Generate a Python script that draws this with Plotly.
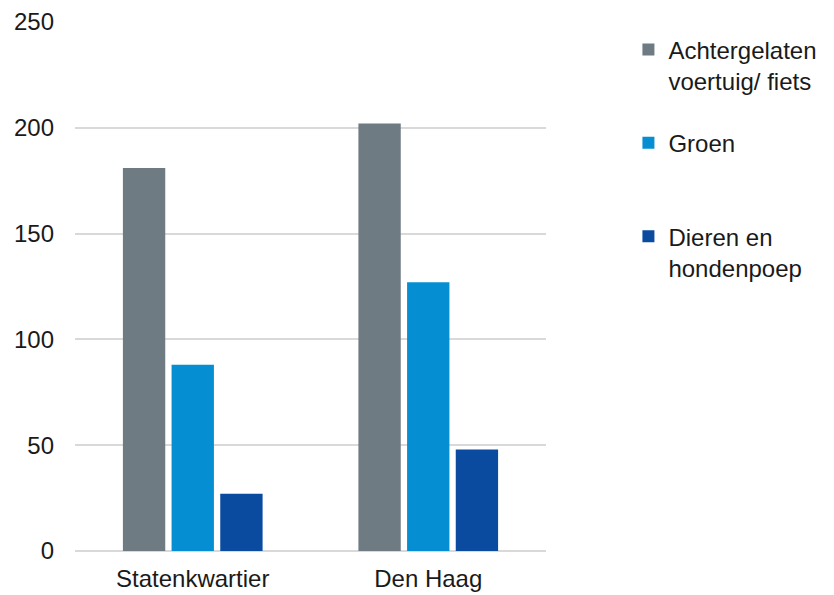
import plotly.graph_objects as go

categories = ["Statenkwartier", "Den Haag"]
series_names = ["Achtergelaten<br>voertuig/ fiets", "Groen<br>&nbsp;", "Dieren en<br>hondenpoep"]
achtergelaten = [181, 202]
groen = [88, 127]
dieren = [27, 48]
colors = ["#6f7b83", "#058fd2", "#0a4ba0"]
y_ticks = [0, 50, 100, 150, 200, 250]

fig = go.Figure()
for i, (name, vals) in enumerate(zip(series_names, [achtergelaten, groen, dieren])):
    fig.add_trace(go.Bar(x=categories, y=vals, name=name, marker_color=colors[i],
                         marker_line_width=0, legendgroup=str(i)))

# page body has an 8px margin, so the figure is shifted up/left to compensate
fig.update_layout(
    width=834, height=595,
    margin=dict(l=67, r=296, t=14, b=52, autoexpand=False),
    paper_bgcolor="white", plot_bgcolor="white",
    font=dict(family="Liberation Sans, Arial, sans-serif", size=24, color="#1a1a1a"),
    barmode="group", bargap=0.38, bargroupgap=0.13,
    legend=dict(x=1.175, y=0.99, xanchor="left", yanchor="top", valign="top",
                tracegroupgap=28, traceorder="grouped",
                font=dict(size=24), itemwidth=30),
    xaxis=dict(showline=False, ticks="", ticklabelstandoff=11, automargin=False),
    yaxis=dict(range=[0, 250], tickvals=y_ticks, showgrid=True, gridcolor="#d9d9d9",
               gridwidth=1.5, zeroline=True, zerolinecolor="#d9d9d9", zerolinewidth=1.5,
               ticks="", ticklabelstandoff=20, automargin=False),
)

fig.write_html("out.html")
